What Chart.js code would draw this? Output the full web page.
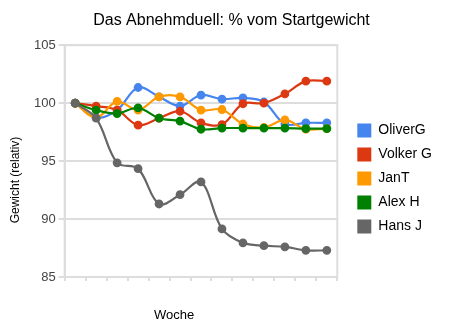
<!DOCTYPE html>
<html>
<head>
<meta charset="utf-8">
<script src="https://cdn.jsdelivr.net/npm/chart.js@4"></script>
<style>
html,body{margin:0;padding:0;background:#fff;}
#wrap{width:469px;height:331px;position:relative;}
</style>
</head>
<body>
<div id="wrap"><canvas id="c" width="469" height="331"></canvas></div>
<script>
const weeks = ['', '', '', '', '', '', '', '', '', '', '', '', ''];
const seriesNames = ['OliverG', 'Volker G', 'JanT', 'Alex H', 'Hans J'];
const oliverG = [100, 98.75, 99.4, 101.35, 100.55, 99.75, 100.7, 100.35, 100.45, 100.1, 98.2, 98.3, 98.3];
const volkerG = [100, 99.75, 99.4, 98.1, 98.7, 99.3, 98.3, 98.15, 99.95, 100, 100.8, 101.9, 101.9];
const janT = [100, 98.75, 100.15, 99.4, 100.55, 100.55, 99.4, 99.45, 98.2, 97.9, 98.55, 97.75, 97.8];
const alexH = [100, 99.4, 99.1, 99.6, 98.7, 98.45, 97.75, 97.85, 97.85, 97.85, 97.85, 97.8, 97.8];
const hansJ = [100, 98.7, 94.85, 94.35, 91.3, 92.1, 93.2, 89.15, 87.95, 87.7, 87.6, 87.3, 87.3];
const yTicks = [85, 90, 95, 100, 105];
const xTitle = 'Woche';
const yTitle = 'Gewicht (relativ)';
const colors = ['#4684ee', '#dc3912', '#ff9900', '#008000', '#666666'];
const allSeries = [oliverG, volkerG, janT, alexH, hansJ];
const FONT = 'Liberation Sans, Arial, sans-serif';

const frame = {
  id: 'frame',
  afterLayout(chart) {
    const lg = chart.legend;
    if (lg) { lg.left += 10; lg.right += 10; lg.top += 38; lg.bottom += 38; }
  },
  beforeDatasetsDraw(chart) {
    const a = chart.chartArea, ctx = chart.ctx;
    ctx.save();
    ctx.strokeStyle = '#dddddd';
    ctx.lineWidth = 2;
    ctx.strokeRect(a.left, a.top, a.right - a.left, a.bottom - a.top);
    ctx.restore();
  },
  afterDraw(chart) {
    const ctx = chart.ctx;
    ctx.save();
    ctx.fillStyle = '#000';
    ctx.textAlign = 'center';
    ctx.textBaseline = 'middle';
    ctx.font = '13px ' + FONT;
    ctx.fillText(xTitle, 174, 315);
    ctx.translate(16, 180);
    ctx.rotate(-Math.PI / 2);
    ctx.font = '12px ' + FONT;
    ctx.fillText(yTitle, 0, 0);
    ctx.restore();
  }
};

new Chart(document.getElementById('c'), {
  type: 'line',
  data: {
    labels: weeks,
    datasets: allSeries.map((d, i) => ({
      label: seriesNames[i],
      data: d,
      borderColor: colors[i],
      backgroundColor: colors[i],
      pointBackgroundColor: colors[i],
      pointBorderColor: colors[i],
      borderWidth: 2.2,
      pointRadius: 3.3,
      tension: 0.35,
      order: allSeries.length - i,
      fill: false
    }))
  },
  options: {
    responsive: false,
    animation: false,
    layout: { padding: { left: 31, right: 37, top: 0, bottom: 50 } },
    plugins: {
      tooltip: { enabled: false },
      title: {
        display: true,
        text: 'Das Abnehmduell: % vom Startgewicht',
        color: '#000',
        font: { family: FONT, size: 16, weight: 'normal' },
        padding: { top: 11, bottom: 15 }
      },
      legend: {
        position: 'right',
        labels: {
          sort: (a, b) => a.datasetIndex - b.datasetIndex,
          boxWidth: 14,
          boxHeight: 14,
          padding: 10,
          color: '#222',
          font: { family: FONT, size: 14 },
          generateLabels(chart) {
            return chart.data.datasets.map((ds, i) => ({
              text: ds.label,
              fillStyle: ds.borderColor,
              strokeStyle: ds.borderColor,
              lineWidth: 0,
              hidden: false,
              datasetIndex: i
            }));
          }
        }
      }
    },
    scales: {
      x: {
        offset: true,
        grid: { display: true, drawOnChartArea: false, offset: true, tickLength: 4, color: '#dddddd', lineWidth: 2 },
        border: { color: '#dddddd', width: 2 },
        ticks: { display: false },
        title: { display: false }
      },
      y: {
        min: 85,
        max: 105,
        afterBuildTicks(axis) { axis.ticks = yTicks.map(v => ({ value: v })); },
        grid: { color: '#dddddd', lineWidth: 2, tickLength: 6 },
        border: { color: '#dddddd', width: 2 },
        ticks: {
          color: '#444',
          padding: 3,
          font: { family: FONT, size: 13 }
        },
        title: { display: false }
      }
    }
  },
  plugins: [frame]
});
</script>
</body>
</html>
